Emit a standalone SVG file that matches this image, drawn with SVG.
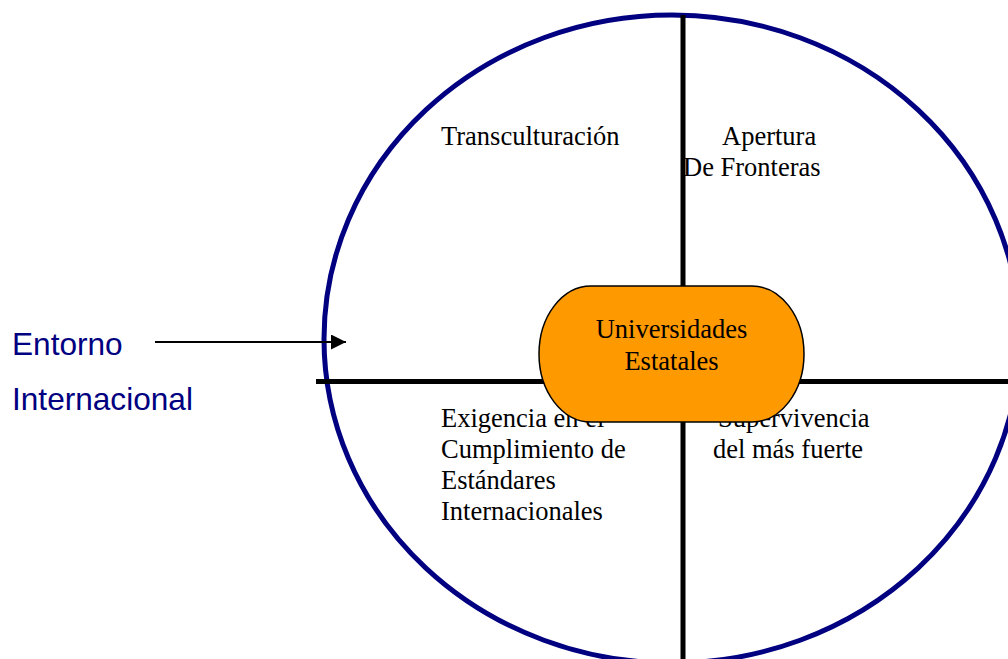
<svg xmlns="http://www.w3.org/2000/svg" width="1008" height="659" viewBox="0 0 1008 659">
  <style>
    .serif { font-family: "Liberation Serif", "Times New Roman", serif; font-size: 26.5px; fill: #000; }
    .sans { font-family: "Liberation Sans", Arial, sans-serif; font-size: 31.6px; fill: #000080; }
    .axis { stroke: #000; stroke-width: 5; fill: none; }
  </style>
  <defs>
    <marker id="arrow" markerWidth="15" markerHeight="15" refX="15" refY="7.5" orient="auto" markerUnits="userSpaceOnUse">
      <path d="M0,0 L15,7.5 L0,15 Z" fill="#000"/>
    </marker>
  </defs>
  <rect width="1008" height="659" fill="#fff"/>

  <g id="circle">
    <ellipse cx="672" cy="339" rx="348" ry="324" fill="none" stroke="#000080" stroke-width="5"/>
  </g>

  <g id="axes">
    <line class="axis" x1="683" y1="15" x2="683" y2="662"/>
    <line class="axis" x1="316" y1="381.5" x2="1010" y2="381.5"/>
  </g>

  <g id="entorno">
    <text class="sans" x="12" y="355">Entorno</text>
    <text class="sans" x="12" y="410">Internacional</text>
  </g>

  <g id="connectors">
    <line x1="155" y1="342" x2="346" y2="342" stroke="#000" stroke-width="2" marker-end="url(#arrow)"/>
  </g>

  <g id="q-transculturacion">
    <text class="serif" x="441" y="145">Transculturación</text>
  </g>
  <g id="q-apertura">
    <text class="serif" x="722" y="145">Apertura</text>
    <text class="serif" x="683" y="176">De Fronteras</text>
  </g>
  <g id="q-exigencia">
    <text class="serif" x="441" y="427">Exigencia en el</text>
    <text class="serif" x="441" y="458">Cumplimiento de</text>
    <text class="serif" x="441" y="489">Estándares</text>
    <text class="serif" x="441" y="520">Internacionales</text>
  </g>
  <g id="q-supervivencia">
    <text class="serif" x="718" y="427">Supervivencia</text>
    <text class="serif" x="713" y="458">del más fuerte</text>
  </g>

  <g id="universidades">
    <rect x="539" y="286" width="265" height="136" rx="52" ry="68" fill="#FF9900" stroke="#000" stroke-width="1.5"/>
    <text class="serif" x="671.5" y="338" text-anchor="middle">Universidades</text>
    <text class="serif" x="671.5" y="370" text-anchor="middle">Estatales</text>
  </g>
</svg>
